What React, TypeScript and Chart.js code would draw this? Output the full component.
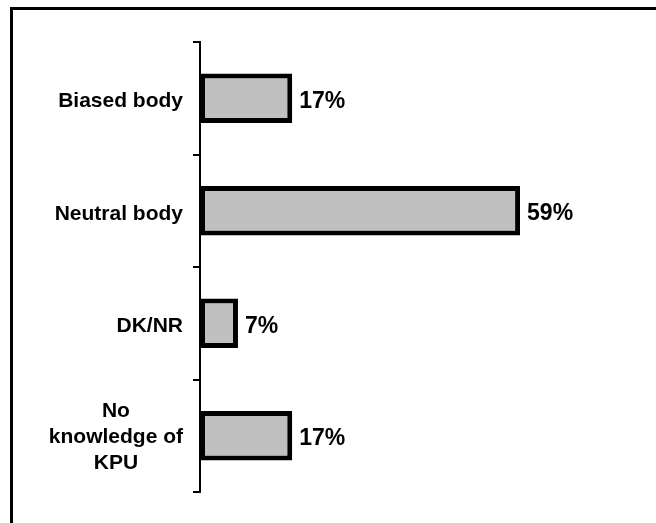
import React, { useEffect, useRef } from "react";
import { Chart, registerables } from "chart.js";

Chart.register(...registerables);

const categories: string[][] = [["Biased body"], ["Neutral body"], ["DK/NR"], ["No", "knowledge of", "KPU"]];
const values: number[] = [17, 59, 7, 17];
const valueLabels: string[] = values.map((v) => `${v}%`);
const axisMin = 0;
const axisMax = 80;

const LABEL_FONT = "bold 21px 'Liberation Sans', Arial, Helvetica, sans-serif";
const VALUE_FONT = "bold 23px 'Liberation Sans', Arial, Helvetica, sans-serif";

const labelPlugin = {
  id: "excelLabels",
  afterDraw(chart: any) {
    const ctx = chart.ctx as CanvasRenderingContext2D;
    const yScale = chart.scales.y;
    const meta = chart.getDatasetMeta(0);
    ctx.save();
    ctx.fillStyle = "#000";
    ctx.font = LABEL_FONT;
    ctx.textBaseline = "middle";
    const lineH = 26;
    (chart.data.labels as any[]).forEach((lab, i) => {
      const lines: string[] = Array.isArray(lab) ? lab : [String(lab)];
      const cy = yScale.getPixelForValue(i) + (lines.length > 1 ? 1.5 : 3);
      const widest = Math.max(...lines.map((l) => ctx.measureText(l).width));
      const right = yScale.right - 17;
      const cx = right - widest / 2;
      ctx.textAlign = "center";
      lines.forEach((l, k) => {
        ctx.fillText(l, cx, cy + (k - (lines.length - 1) / 2) * lineH);
      });
    });
    ctx.font = VALUE_FONT;
    ctx.textAlign = "left";
    meta.data.forEach((bar: any, i: number) => {
      ctx.fillText(valueLabels[i], bar.x + 7, bar.y + 3);
    });
    ctx.restore();
  },
};

export default function App() {
  const ref = useRef<HTMLCanvasElement | null>(null);
  useEffect(() => {
    if (!ref.current) return;
    const chart = new Chart(ref.current, {
      type: "bar",
      data: {
        labels: categories,
        datasets: [
          {
            data: values,
            backgroundColor: "#c0c0c0",
            borderColor: "#000000",
            borderWidth: 5,
            borderSkipped: false,
            barPercentage: 0.44,
            categoryPercentage: 1,
          },
        ],
      },
      options: {
        indexAxis: "y",
        animation: false,
        responsive: false,
        layout: { padding: { top: 42, bottom: 31, left: 0, right: 22 } },
        plugins: { legend: { display: false }, tooltip: { enabled: false } },
        scales: {
          x: { display: false, min: axisMin, max: axisMax },
          y: {
            grid: {
              drawOnChartArea: false,
              drawTicks: true,
              tickLength: 7,
              color: "#000",
              lineWidth: 2,
              offset: true,
            },
            border: { display: true, color: "#000", width: 2 },
            ticks: { display: false },
            afterFit(scale: any) {
              scale.width = 200;
            },
          },
        },
      },
      plugins: [labelPlugin],
    });
    return () => chart.destroy();
  }, []);

  return (
    <div style={{ position: "fixed", left: 0, top: 0, width: 656, height: 523, overflow: "hidden", background: "#fff" }}>
      <div
        style={{
          position: "absolute",
          left: 10,
          top: 7,
          width: 700,
          height: 600,
          borderLeft: "3px solid #000",
          borderTop: "3px solid #000",
        }}
      />
      <canvas ref={ref} width={656} height={523} style={{ position: "absolute", left: 0, top: 0, display: "block" }} />
    </div>
  );
}
